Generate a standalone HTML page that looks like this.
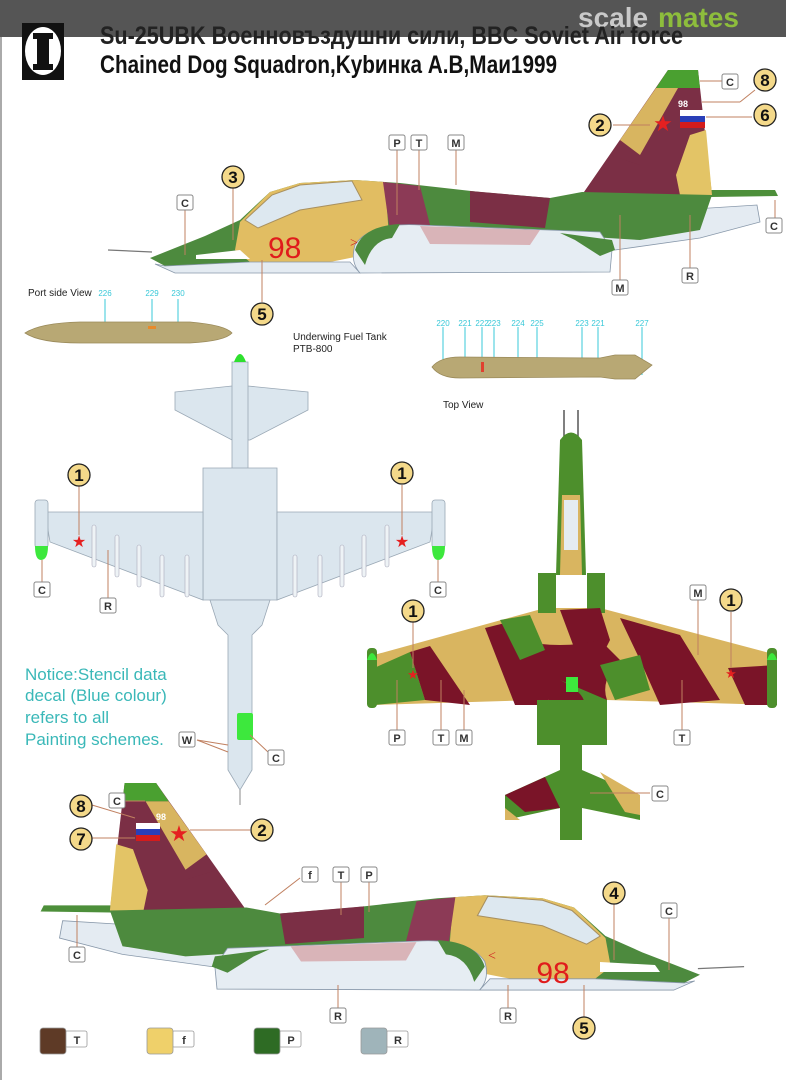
<!DOCTYPE html>
<html><head><meta charset="utf-8">
<style>
html,body{margin:0;padding:0;background:#fff;}
svg{display:block;}
.lb{font-family:"Liberation Sans Narrow","Liberation Sans",sans-serif;font-size:11px;font-weight:bold;fill:#333;text-anchor:middle;}
.num{font-family:"Liberation Sans Narrow","Liberation Sans",sans-serif;font-size:17px;font-weight:bold;fill:#111;text-anchor:middle;}
.cy{font-family:"Liberation Sans Narrow","Liberation Sans",sans-serif;font-size:8px;fill:#38c8d8;text-anchor:middle;}
.sm{font-family:"Liberation Sans",sans-serif;font-size:10px;fill:#222;}
</style></head><body>
<svg width="786" height="1080" viewBox="0 0 786 1080" xmlns="http://www.w3.org/2000/svg">
<defs>
  <g id="ac">
    <polygon points="640,190 775,190 778,196 640,198" fill="#4d8f3a"/>
    <polygon points="600,215 757,205 760,222 700,238 615,250 600,250" fill="#e4ebf2" stroke="#8898aa" stroke-width="0.8"/>
    <polygon points="582,195 668,70 698,70 712,195" fill="#7b2f45"/>
    <polygon points="668,70 698,70 700,88 656,88" fill="#4aa030"/>
    <polygon points="656,88 678,88 640,155 620,140" fill="#d8b560"/>
    <polygon points="690,135 706,130 712,195 680,195 676,175" fill="#e3c466"/>
    <polygon points="582,195 610,155 640,165 640,195" fill="#7b2f45"/>
    <polygon points="150,258 175,248 205,236 240,220 270,192 300,183 355,180 400,183 480,192 550,198 582,192 712,195 700,230 640,240 560,235 420,228 250,262 165,266" fill="#4d8a3e"/>
    <polygon points="240,222 270,192 300,183 355,180 385,182 390,250 330,262 250,262 235,250" fill="#e1bd62"/>
    <polygon points="245,220 272,195 300,185 352,181 362,200 300,210 258,228" fill="#dde8f0" stroke="#a89060" stroke-width="1"/>
    <polygon points="383,182 420,186 430,225 390,232" fill="#8c3a56"/>
    <polygon points="470,191 550,198 545,228 470,222" fill="#7b2f45"/>
    <polygon points="165,266 250,262 350,262 360,273 175,273 155,264" fill="#e4ebf2" stroke="#8898aa" stroke-width="0.8"/>
    <path d="M355,245 Q370,222 420,225 L600,232 L612,250 L610,272 L360,273 Q350,262 355,245 Z" fill="#e6edf3" stroke="#8898aa" stroke-width="0.8"/>
    <path d="M355,250 Q362,226 400,224 L392,238 Q372,240 365,265 Z" fill="#4d8a3e"/>
    <polygon points="420,226 540,230 530,245 430,244" fill="#d9b4b8"/>
    <polygon points="560,233 612,240 615,250 600,256 575,240" fill="#4d8a3e"/>
    <line x1="108" y1="250" x2="152" y2="252" stroke="#777" stroke-width="1.2"/>
  </g>
</defs>

<rect x="0" y="0" width="786" height="37" fill="#555"/>
<text x="578" y="27" font-family="Liberation Sans,sans-serif" font-size="28" font-weight="bold" fill="#c9c9c9">scale</text>
<text x="658" y="27" font-family="Liberation Sans,sans-serif" font-size="28" font-weight="bold" fill="#8dbd3c">mates</text>
<line x1="1" y1="37" x2="1" y2="1080" stroke="#aaa" stroke-width="2"/>

<rect x="22" y="23" width="42" height="57" fill="#111"/>
<ellipse cx="43" cy="51" rx="18" ry="24" fill="#fff"/>
<rect x="37" y="33" width="12" height="37" fill="#111"/>
<rect x="33" y="33" width="20" height="6" fill="#111"/>
<rect x="33" y="64" width="20" height="6" fill="#111"/>
<text x="100" y="44" font-family="Liberation Sans Narrow,Liberation Sans,sans-serif" font-size="25" font-weight="bold" fill="#222" textLength="583" lengthAdjust="spacingAndGlyphs">Su-25UBK Военновъздушни сили, BBC Soviet Air force</text>
<text x="100" y="73" font-family="Liberation Sans Narrow,Liberation Sans,sans-serif" font-size="25" font-weight="bold" fill="#111" textLength="457" lengthAdjust="spacingAndGlyphs">Chained Dog Squadron,Kybинка А.В,Маи1999</text>

<use href="#ac"/>
<text x="268" y="258" font-family="Liberation Sans,sans-serif" font-size="30" fill="#e01c1c">98</text>
<polygon points="196,255 240,250 250,259 196,259" fill="#fff"/>
<rect x="680" y="110" width="25" height="6" fill="#fff"/><rect x="680" y="116" width="25" height="6" fill="#2a3fb8"/><rect x="680" y="122" width="25" height="6" fill="#d41c1c"/>
<text x="678" y="107" font-family="Liberation Sans,sans-serif" font-size="9" font-weight="bold" fill="#fff">98</text>
<text x="663" y="131" font-size="22" fill="#e52020" text-anchor="middle">★</text>
<text x="350" y="247" font-size="14" fill="#d02020">&gt;</text>

<g stroke="#c08060" stroke-width="1" fill="none">
  <line x1="185" y1="208" x2="185" y2="255"/><line x1="233" y1="188" x2="233" y2="240"/>
  <line x1="262" y1="260" x2="262" y2="302"/>
  <line x1="397" y1="150" x2="397" y2="215"/><line x1="419" y1="150" x2="419" y2="190"/>
  <line x1="456" y1="150" x2="456" y2="185"/>
  <line x1="620" y1="215" x2="620" y2="280"/><line x1="690" y1="215" x2="690" y2="268"/>
  <line x1="700" y1="81" x2="722" y2="81"/><line x1="702" y1="102" x2="740" y2="102" /><line x1="740" y1="102" x2="755" y2="90"/>
  <line x1="706" y1="117" x2="752" y2="117"/><line x1="613" y1="125" x2="650" y2="125"/>
  <line x1="775" y1="200" x2="775" y2="218"/>
</g>
<g fill="#fff" stroke="#888" stroke-width="1">
  <rect x="177" y="195" width="16" height="15" rx="2"/>
  <rect x="389" y="135" width="16" height="15" rx="2"/><rect x="411" y="135" width="16" height="15" rx="2"/><rect x="448" y="135" width="16" height="15" rx="2"/>
  <rect x="612" y="280" width="16" height="15" rx="2"/><rect x="682" y="268" width="16" height="15" rx="2"/>
  <rect x="722" y="74" width="16" height="15" rx="2"/><rect x="766" y="218" width="16" height="15" rx="2"/>
</g>
<g class="lb"><text x="185" y="207" class="lb">C</text><text x="397" y="147" class="lb">P</text><text x="419" y="147" class="lb">T</text><text x="456" y="147" class="lb">M</text><text x="620" y="292" class="lb">M</text><text x="690" y="280" class="lb">R</text><text x="730" y="86" class="lb">C</text><text x="774" y="230" class="lb">C</text></g>
<g fill="#f4d98a" stroke="#222" stroke-width="1.3">
  <circle cx="233" cy="177" r="11"/><circle cx="262" cy="314" r="11"/><circle cx="600" cy="125" r="11"/><circle cx="765" cy="80" r="11"/><circle cx="765" cy="115" r="11"/>
</g>
<g class="num"><text x="233" y="183">3</text><text x="262" y="320">5</text><text x="600" y="131">2</text><text x="765" y="86">8</text><text x="765" y="121">6</text></g>

<text x="28" y="296" class="sm">Port side View</text>
<text x="105" y="296" class="cy">226</text><text x="152" y="296" class="cy">229</text><text x="178" y="296" class="cy">230</text>
<g stroke="#38c8d8" stroke-width="1"><line x1="105" y1="299" x2="105" y2="323"/><line x1="152" y1="299" x2="152" y2="323"/><line x1="178" y1="299" x2="178" y2="323"/></g>
<path d="M25,333 Q40,323 80,322 L190,322 Q225,325 232,333 Q225,341 190,343 L80,343 Q40,343 25,333Z" fill="#b8a874" stroke="#9a8a5a" stroke-width="0.8"/>
<rect x="148" y="326" width="8" height="3" fill="#e88a2a"/>
<text x="293" y="340" class="sm">Underwing Fuel Tank</text><text x="293" y="352" class="sm">PTB-800</text>
<g stroke="#38c8d8" stroke-width="1"><line x1="443" y1="327" x2="443" y2="360"/><line x1="465" y1="327" x2="465" y2="360"/><line x1="482" y1="327" x2="482" y2="360"/><line x1="494" y1="327" x2="494" y2="360"/><line x1="518" y1="327" x2="518" y2="360"/><line x1="537" y1="327" x2="537" y2="360"/><line x1="582" y1="327" x2="582" y2="360"/><line x1="598" y1="327" x2="598" y2="360"/><line x1="642" y1="327" x2="642" y2="375"/></g>
<g class="cy"><text x="443" y="326">220</text><text x="465" y="326">221</text><text x="482" y="326">222</text><text x="494" y="326">223</text><text x="518" y="326">224</text><text x="537" y="326">225</text><text x="582" y="326">223</text><text x="598" y="326">221</text><text x="642" y="326">227</text></g>
<path d="M432,367 Q440,357 460,357 L600,358 L615,355 L635,355 L652,365 L635,379 L615,379 L600,377 L460,378 Q440,378 432,367Z" fill="#b8a874" stroke="#9a8a5a" stroke-width="0.8"/>
<rect x="481" y="362" width="3" height="10" fill="#e04030"/>
<text x="443" y="408" class="sm">Top View</text>

<g fill="#dbe6ee" stroke="#9aa8b5" stroke-width="0.8">
  <polygon points="175,392 232,386 248,386 308,392 308,410 250,440 232,440 175,410"/>
  <rect x="232" y="362" width="16" height="110"/>
  <polygon points="203,468 277,468 277,600 203,600"/>
  <polygon points="45,512 203,512 203,600 50,542"/>
  <polygon points="277,512 435,512 430,542 277,600"/>
  <rect x="35" y="500" width="13" height="48" rx="3"/>
  <rect x="432" y="500" width="13" height="48" rx="3"/>
  <polygon points="210,600 270,600 262,625 252,635 252,770 240,790 228,770 228,635 218,625"/>
</g>
<path d="M234,362 Q240,346 246,362Z" fill="#2ee02e"/>
<path d="M35,546 L48,546 Q48,560 41,560 Q35,560 35,546Z" fill="#3de83d"/>
<path d="M432,546 L445,546 Q445,560 438,560 Q432,560 432,546Z" fill="#3de83d"/>
<rect x="237" y="713" width="16" height="27" rx="2" fill="#3de83d"/>
<line x1="240" y1="790" x2="240" y2="805" stroke="#888"/>
<g fill="#eef3f6" stroke="#aab" stroke-width="0.6">
  <rect x="92" y="525" width="4" height="42" rx="2"/><rect x="115" y="535" width="4" height="42" rx="2"/><rect x="137" y="545" width="4" height="42" rx="2"/><rect x="160" y="555" width="4" height="42" rx="2"/><rect x="185" y="555" width="4" height="42" rx="2"/>
  <rect x="293" y="555" width="4" height="42" rx="2"/><rect x="318" y="555" width="4" height="42" rx="2"/><rect x="340" y="545" width="4" height="42" rx="2"/><rect x="362" y="535" width="4" height="42" rx="2"/><rect x="385" y="525" width="4" height="42" rx="2"/>
</g>
<text x="79" y="547" font-size="16" fill="#e52020" text-anchor="middle">★</text>
<text x="402" y="547" font-size="16" fill="#e52020" text-anchor="middle">★</text>
<g stroke="#c08060" stroke-width="1"><line x1="79" y1="485" x2="79" y2="535"/><line x1="402" y1="485" x2="402" y2="535"/><line x1="42" y1="560" x2="42" y2="582"/><line x1="438" y1="560" x2="438" y2="582"/><line x1="108" y1="550" x2="108" y2="598"/><line x1="197" y1="740" x2="228" y2="745"/><line x1="197" y1="740" x2="228" y2="752"/><line x1="250" y1="735" x2="268" y2="752"/></g>
<g fill="#fff" stroke="#888" stroke-width="1"><rect x="34" y="582" width="16" height="15" rx="2"/><rect x="430" y="582" width="16" height="15" rx="2"/><rect x="100" y="598" width="16" height="15" rx="2"/><rect x="179" y="732" width="16" height="15" rx="2"/><rect x="268" y="750" width="16" height="15" rx="2"/></g>
<g class="lb"><text x="42" y="594">C</text><text x="438" y="594">C</text><text x="108" y="610">R</text><text x="187" y="744">W</text><text x="276" y="762">C</text></g>
<g fill="#f4d98a" stroke="#222" stroke-width="1.3"><circle cx="79" cy="475" r="11"/><circle cx="402" cy="473" r="11"/></g>
<g class="num"><text x="79" y="481">1</text><text x="402" y="479">1</text></g>
<g font-family="Liberation Sans Narrow,Liberation Sans,sans-serif" font-size="17" fill="#3ab8b8">
<text x="25" y="680">Notice:Stencil data</text><text x="25" y="701">decal (Blue colour)</text><text x="25" y="723">refers to all</text><text x="25" y="745">Painting schemes.</text></g>

<line x1="564" y1="410" x2="564" y2="440" stroke="#555" stroke-width="1.5"/><line x1="578" y1="410" x2="578" y2="440" stroke="#555" stroke-width="1.5"/>
<polygon points="374,655 545,608 600,608 777,655 777,705 607,700 607,745 537,745 537,700 374,705" fill="#d9b560"/>
<path d="M560,440 Q571,425 582,440 L586,575 L556,575Z" fill="#4d8f2c"/>
<path d="M562,495 L580,495 L582,575 L560,575Z" fill="#d9b560"/>
<rect x="564" y="500" width="14" height="50" fill="#e5ecf0"/>
<rect x="538" y="573" width="18" height="40" fill="#4d8f2c"/>
<rect x="587" y="573" width="18" height="40" fill="#4d8f2c"/>
<polygon points="374,668 410,652 425,700 374,705" fill="#4d8f2c"/>
<polygon points="410,652 430,646 470,705 425,700" fill="#7a1428"/>
<polygon points="485,628 525,618 560,680 545,705 515,705" fill="#7a1428"/>
<polygon points="560,610 600,608 610,640 600,660 575,650" fill="#7a1428"/>
<polygon points="620,618 680,635 720,700 660,705 640,660" fill="#7a1428"/>
<polygon points="728,668 777,665 777,705 745,705" fill="#7a1428"/>
<path d="M520,640 Q560,690 545,705 L537,745 L607,745 L607,700 Q600,680 620,660 L600,640 Q560,650 520,640Z" fill="#7a1428"/>
<path d="M560,680 Q600,700 575,720 L607,745 L607,700Z" fill="#4d8f2c"/>
<polygon points="500,620 530,615 545,650 520,660" fill="#4d8f2c"/>
<polygon points="600,665 640,655 650,690 615,700" fill="#4d8f2c"/>
<rect x="566" y="677" width="12" height="15" fill="#3de83d"/>
<rect x="367" y="648" width="10" height="60" rx="4" fill="#4d8f2c"/><rect x="767" y="648" width="10" height="60" rx="4" fill="#4d8f2c"/>
<path d="M367,660 Q372,646 377,660Z" fill="#3de83d"/><path d="M767,660 Q772,646 777,660Z" fill="#3de83d"/>
<rect x="537" y="700" width="70" height="45" fill="#4d8f2c"/>
<rect x="560" y="745" width="22" height="95" fill="#4d8f2c"/>
<polygon points="505,795 560,770 582,770 640,795 640,820 582,808 560,808 505,820" fill="#4d8f2c"/>
<polygon points="505,795 545,777 560,808 525,812" fill="#7a1428"/>
<polygon points="600,772 640,795 640,815 625,812" fill="#d9b560"/>
<polygon points="505,808 520,820 505,820" fill="#d9b560"/>
<text x="413" y="679" font-size="13" fill="#e52020" text-anchor="middle">★</text>
<text x="731" y="678" font-size="13" fill="#e52020" text-anchor="middle">★</text>
<g stroke="#c08060" stroke-width="1"><line x1="413" y1="612" x2="413" y2="668"/><line x1="731" y1="612" x2="731" y2="668"/><line x1="397" y1="680" x2="397" y2="730"/><line x1="441" y1="680" x2="441" y2="730"/><line x1="464" y1="690" x2="464" y2="730"/><line x1="682" y1="680" x2="682" y2="730"/><line x1="698" y1="600" x2="698" y2="655"/><line x1="590" y1="793" x2="650" y2="793"/></g>
<g fill="#fff" stroke="#888" stroke-width="1"><rect x="389" y="730" width="16" height="15" rx="2"/><rect x="433" y="730" width="16" height="15" rx="2"/><rect x="456" y="730" width="16" height="15" rx="2"/><rect x="674" y="730" width="16" height="15" rx="2"/><rect x="690" y="585" width="16" height="15" rx="2"/><rect x="652" y="786" width="16" height="15" rx="2"/></g>
<g class="lb"><text x="397" y="742">P</text><text x="441" y="742">T</text><text x="464" y="742">M</text><text x="682" y="742">T</text><text x="698" y="597">M</text><text x="660" y="798">C</text></g>
<g fill="#f4d98a" stroke="#222" stroke-width="1.3"><circle cx="413" cy="611" r="11"/><circle cx="731" cy="600" r="11"/></g>
<g class="num"><text x="413" y="617">1</text><text x="731" y="606">1</text></g>

<use href="#ac" transform="translate(857.5,711.6) scale(-1.05,1.02)"/>
<text x="553" y="983" font-family="Liberation Sans,sans-serif" font-size="30" fill="#e01c1c" text-anchor="middle">98</text>
<polygon points="600,962 655,965 660,972 600,972" fill="#fff"/>
<rect x="136" y="823" width="24" height="6" fill="#fff"/><rect x="136" y="829" width="24" height="6" fill="#2a3fb8"/><rect x="136" y="835" width="24" height="6" fill="#d41c1c"/>
<text x="156" y="820" font-family="Liberation Sans,sans-serif" font-size="9" font-weight="bold" fill="#fff">98</text>
<text x="179" y="841" font-size="22" fill="#e52020" text-anchor="middle">★</text>
<text x="488" y="960" font-size="14" fill="#d02020">&lt;</text>
<g stroke="#c08060" stroke-width="1"><line x1="92" y1="805" x2="135" y2="818"/><line x1="92" y1="838" x2="135" y2="838"/><line x1="125" y1="801" x2="145" y2="801"/><line x1="190" y1="830" x2="250" y2="830"/><line x1="300" y1="878" x2="265" y2="905"/><line x1="341" y1="878" x2="341" y2="915"/><line x1="369" y1="878" x2="369" y2="912"/><line x1="77" y1="915" x2="77" y2="948"/><line x1="614" y1="903" x2="614" y2="960"/><line x1="669" y1="918" x2="669" y2="970"/><line x1="338" y1="985" x2="338" y2="1008"/><line x1="508" y1="985" x2="508" y2="1008"/><line x1="584" y1="985" x2="584" y2="1018"/></g>
<g fill="#fff" stroke="#888" stroke-width="1"><rect x="109" y="793" width="16" height="15" rx="2"/><rect x="302" y="867" width="16" height="15" rx="2"/><rect x="333" y="867" width="16" height="15" rx="2"/><rect x="361" y="867" width="16" height="15" rx="2"/><rect x="69" y="947" width="16" height="15" rx="2"/><rect x="661" y="903" width="16" height="15" rx="2"/><rect x="330" y="1008" width="16" height="15" rx="2"/><rect x="500" y="1008" width="16" height="15" rx="2"/></g>
<g class="lb"><text x="117" y="805">C</text><text x="310" y="879">f</text><text x="341" y="879">T</text><text x="369" y="879">P</text><text x="77" y="959">C</text><text x="669" y="915">C</text><text x="338" y="1020">R</text><text x="508" y="1020">R</text></g>
<g fill="#f4d98a" stroke="#222" stroke-width="1.3"><circle cx="81" cy="806" r="11"/><circle cx="81" cy="839" r="11"/><circle cx="262" cy="830" r="11"/><circle cx="614" cy="893" r="11"/><circle cx="584" cy="1028" r="11"/></g>
<g class="num"><text x="81" y="812">8</text><text x="81" y="845">7</text><text x="262" y="836">2</text><text x="614" y="899">4</text><text x="584" y="1034">5</text></g>

<g stroke="#999" stroke-width="0.8">
<rect x="65" y="1031" width="22" height="16" rx="2" fill="#fff"/><rect x="40" y="1028" width="26" height="26" rx="3" fill="#5e3a26"/>
<rect x="172" y="1031" width="22" height="16" rx="2" fill="#fff"/><rect x="147" y="1028" width="26" height="26" rx="3" fill="#efd06a"/>
<rect x="279" y="1031" width="22" height="16" rx="2" fill="#fff"/><rect x="254" y="1028" width="26" height="26" rx="3" fill="#2e6b24"/>
<rect x="386" y="1031" width="22" height="16" rx="2" fill="#fff"/><rect x="361" y="1028" width="26" height="26" rx="3" fill="#9fb4ba"/>
</g>
<g class="lb"><text x="77" y="1044">T</text><text x="184" y="1044">f</text><text x="291" y="1044">P</text><text x="398" y="1044">R</text></g>
</svg>
</body></html>
